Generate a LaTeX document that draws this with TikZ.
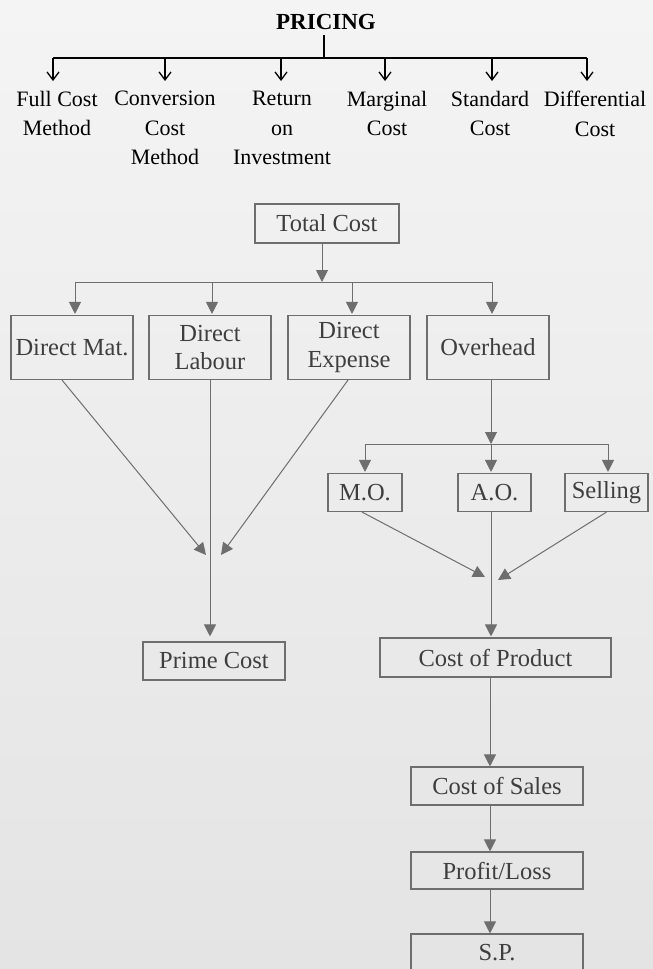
\documentclass[tikz,border=0pt]{standalone}
\usepackage{fontspec}
\setmainfont{Liberation Serif}
\usetikzlibrary{arrows.meta,calc}
\definecolor{bgtop}{HTML}{F4F4F4}
\definecolor{bgbot}{HTML}{E4E4E4}
\definecolor{gline}{HTML}{6E6E6E}
\definecolor{gtext}{HTML}{3E3E3E}
\begin{document}
\begin{tikzpicture}[x=1pt,y=-1pt,
  topline/.style={line width=1.3pt,black},
  toparrow/.style={topline,-{Straight Barb[length=8pt,width=12pt]}},
  toplabel/.style={anchor=north,align=center,inner sep=0pt,font=\fontsize{22}{29.5}\selectfont},
  gconn/.style={draw=gline,line width=1pt},
  garrow/.style={gconn,-{Triangle[length=12pt,width=12pt]}},
  gbox/.style={draw=gline,line width=1.1pt,text=gtext,inner sep=0pt,align=center,font=\fontsize{24.5}{28.5}\selectfont},
]
\useasboundingbox (0,0) rectangle (653,969);
\clip (0,0) rectangle (653,969);
\shade[top color=bgtop,bottom color=bgbot] (0,0) rectangle (653,969);

% ---------- top: PRICING ----------
\node[inner sep=0pt,font=\bfseries\fontsize{23}{28}\selectfont] (pricing) at (326,22) {PRICING};
\coordinate (hub) at (324,58);
\draw[topline,shorten <=5pt] (pricing.south -| hub) -- (hub);

\node[toplabel] (fc)  at (57,91)  {Full Cost\\Method};
\node[toplabel] (cc)  at (165,91) {Conversion\\Cost\\Method};
\node[toplabel] (roi) at (282,91) {Return\\on\\Investment};
\node[toplabel] (mc)  at (387,91) {Marginal\\Cost};
\node[toplabel] (sc)  at (490,91) {Standard\\Cost};
\node[toplabel] (dc)  at (595,91) {Differential\\Cost};

\coordinate (t1) at (53,58);
\coordinate (t2) at (165,58);
\coordinate (t3) at (281,58);
\coordinate (t4) at (385,58);
\coordinate (t5) at (492,58);
\coordinate (t6) at (587,58);
\draw[topline] (t1) -- (t6);
\foreach \t/\n in {t1/fc,t2/cc,t3/roi,t4/mc,t5/sc,t6/dc}
  \draw[toparrow,shorten >=10pt] (\t) -- (\t |- \n.north);

% ---------- bottom: cost chart ----------
\node[gbox,minimum width=144pt,minimum height=39pt] (tc) at (327,223.5) {Total Cost};

\node[gbox,minimum width=122pt,minimum height=64pt] (dm) at (72,347.5)  {Direct Mat.};
\node[gbox,minimum width=122pt,minimum height=64pt] (dl) at (210,347.5) {Direct\\Labour};
\node[gbox,minimum width=122pt,minimum height=64pt] (de) at (349,347.5) {Direct\\Expense};
\node[gbox,minimum width=122pt,minimum height=64pt] (oh) at (488,347.5) {Overhead};

\coordinate (b0) at (322,282);
\coordinate (b1) at (75,282);
\coordinate (b2) at (212,282);
\coordinate (b3) at (352,282);
\coordinate (b4) at (492,282);
\draw[garrow] (tc.south -| b0) -- (b0);
\draw[gconn] (b1) -- (b4);
\foreach \b/\n in {b1/dm,b2/dl,b3/de,b4/oh}
  \draw[garrow,shorten >=1pt] (\b) -- (\b |- \n.north);

% prime cost branch
\node[gbox,minimum width=142pt,minimum height=38pt] (pc) at (214,661) {Prime Cost};
\coordinate (pm) at (206,555);
\coordinate (pe) at (221,555);
\draw[garrow] ($(dm.south)+(-10,0)$) -- (pm);
\draw[garrow] ($(de.south)+(-1,0)$) -- (pe);
\draw[garrow,shorten >=5pt] (dl.south) -- (dl.south |- pc.north);

% overhead branch
\node[gbox,minimum width=74pt,minimum height=38pt] (mo)   at (365,492.5)   {M.O.};
\node[gbox,minimum width=73pt,minimum height=38pt] (ao)   at (494.5,492.5) {A.O.};
\node[gbox,minimum width=83pt,minimum height=38pt] (sell) at (606.5,492.5) {Selling};

\coordinate (o0) at (491,444);
\coordinate (o1) at (365,444);
\coordinate (o3) at (608,444);
\draw[garrow] (oh.south -| o0) -- (o0);
\draw[gconn] (o1) -- (o3);
\foreach \o/\n in {o1/mo,o0/ao,o3/sell}
  \draw[garrow,shorten >=1pt] (\o) -- (\o |- \n.north);

\node[gbox,minimum width=231pt,minimum height=39pt] (cop) at (495.5,657.5) {Cost of Product};
\coordinate (pmo) at (485,577);
\coordinate (psell) at (498,580);
\draw[garrow] ($(mo.south)+(-3,0)$) -- (pmo);
\draw[garrow] (sell.south) -- (psell);
\draw[garrow,shorten >=1pt] (ao.south -| o0) -- (cop.north -| o0);

% sales chain
\coordinate (spine) at (490,0);
\node[gbox,minimum width=172pt,minimum height=38pt] (cos) at (497,786)   {Cost of Sales};
\node[gbox,minimum width=172pt,minimum height=37pt] (pl)  at (497,870.5) {Profit/Loss};
\node[gbox,minimum width=172pt,minimum height=38pt] (sp)  at (497,953)   {S.P.};
\draw[garrow] (cop.south -| spine) -- (cos.north -| spine);
\draw[garrow] (cos.south -| spine) -- (pl.north -| spine);
\draw[garrow] (pl.south -| spine) -- (sp.north -| spine);
\end{tikzpicture}
\end{document}
